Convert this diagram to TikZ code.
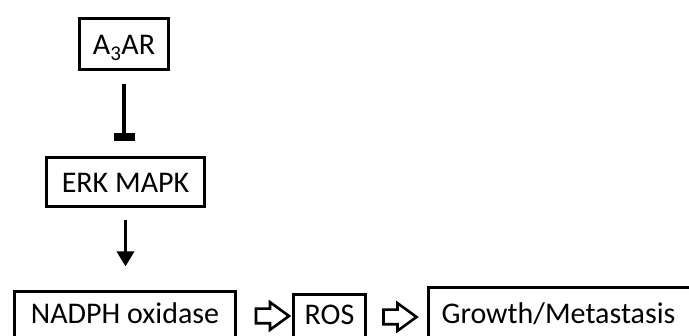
\documentclass[tikz,border=0pt]{standalone}
\usepackage{fontspec}
\setmainfont{Carlito}
\usetikzlibrary{arrows.meta,shapes.arrows,calc}
\begin{document}
\begin{tikzpicture}[x=1pt,y=-1pt,
  box/.style={draw=black,line width=3.2pt,inner xsep=0pt,inner ysep=0pt,anchor=base,
    font=\fontsize{30}{34}\selectfont},
  blockarrow/.style={single arrow,draw=black,line width=2.6pt,fill=white,
    minimum height=33pt,inner sep=6pt,single arrow head extend=6.5pt,
    single arrow tip angle=72},
  inhib/.style={line width=4pt,-{Rectangle[width=21pt,length=8pt]}},
  act/.style={line width=3.5pt,-{Triangle[width=17pt,length=15pt]}}]
\useasboundingbox (0,0) rectangle (689,336);
\clip (0,0) rectangle (689,336);
\fill[white] (0,0) rectangle (689,336);
\node[box,minimum width=89pt,text height=36.5pt,text depth=14.5pt] (a3ar) at (124,55) {A\textsubscript{3}AR};
\node[box,minimum width=158pt,text height=34.8pt,text depth=14.2pt] (erk) at (125.5,192.3) {ERK MAPK};
\node[box,minimum width=221pt,text height=31.8pt,text depth=30pt] (nadph) at (125,323.3) {NADPH oxidase};
\node[box,minimum width=72pt,text height=30.5pt,text depth=30pt] (ros) at (329.5,325) {ROS};
\node[box,anchor=base west,inner xsep=13.5pt,text height=35.8pt,text depth=30pt] (growth) at (426.5,323.3) {Growth/Metastasis\hspace*{40pt}};
\draw[inhib,shorten <=12.5pt,shorten >=14.5pt] (a3ar.south) -- (a3ar.south |- erk.north);
\draw[act,shorten <=11.5pt,shorten >=23.5pt] (erk.south) -- (erk.south |- nadph.north);
\node[blockarrow] (arr1) at (267.5,316) {};
\node[blockarrow] (arr2) at (395,317) {};
\end{tikzpicture}
\end{document}
